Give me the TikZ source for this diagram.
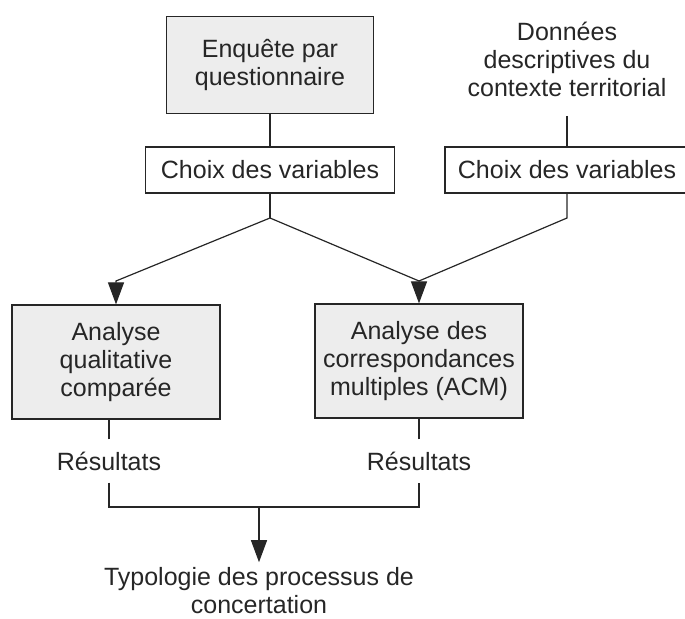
\documentclass[tikz,border=0pt]{standalone}
\usepackage{fontspec}
\setmainfont{Liberation Sans}
\usetikzlibrary{arrows.meta,positioning}

\begin{document}
\begin{tikzpicture}[x=0.5pt,y=-0.5pt,color=black!85,line width=0.6pt,
  font=\fontsize{12.5}{14}\selectfont,
  box/.style={draw,inner sep=0pt,align=center},
  greybox/.style={box,fill=black!7},
  plaintext/.style={align=center,inner sep=0pt},
  arr/.style={-{Triangle[width=8pt,length=11pt]}}]
\useasboundingbox (0,0) rectangle (685,619);
\node[greybox,minimum width=103.5pt,minimum height=48.5pt] (enq) at (270,65) {Enquête par\\questionnaire};
\node[plaintext,inner ysep=9.5pt] (don) at (567,59) {Données\\descriptives du\\contexte territorial};
\node[box,minimum width=124.5pt,minimum height=23pt] (choix1) at (270,170) {Choix des variables};
\node[box,minimum width=122pt,minimum height=23pt] (choix2) at (567,170) {Choix des variables};
\node[greybox,minimum width=104pt,minimum height=57pt] (acq) at (116,362) {Analyse\\qualitative\\comparée};
\node[greybox,minimum width=104pt,minimum height=57pt] (acm) at (419,361) {Analyse des\\correspondances\\multiples (ACM)};
\node[plaintext,minimum height=21pt] (res1) at (109,461) {Résultats};
\node[plaintext,minimum height=21pt] (res2) at (419,461) {Résultats};
\node[plaintext] (typo) at (259,591) {Typologie des processus de\\concertation};
\coordinate (split) at (270,218);
\coordinate (bendL) at (116,281);
\coordinate (bendR) at (419,281);
\coordinate (cornerR) at (567,218);
\coordinate (merge) at (259,507);
\draw (enq) -- (choix1);
\draw (don) -- (choix2);
\draw (choix1) -- (split);
\draw[arr] (split) -- (bendL) -- (acq);
\draw[arr] (split) -- (bendR) -- (acm);
\draw (choix2) -- (cornerR) -- (bendR);
\draw (res1.north) -- (res1.north |- acq.south);
\draw (res2.north) -- (res2.north |- acm.south);
\draw (res1) |- (merge) -| (res2);
\draw[arr,shorten >=2.5pt] (merge) -- (typo);
\end{tikzpicture}
\end{document}
